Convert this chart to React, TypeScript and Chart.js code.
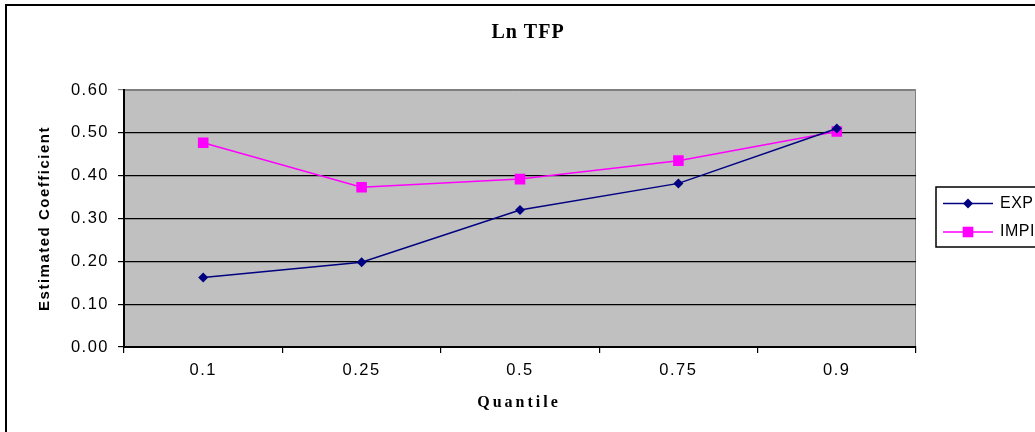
import React, { useEffect, useRef } from 'react';
import { Chart, registerables } from 'chart.js';

Chart.register(...registerables);

const categories = ['0.1', '0.25', '0.5', '0.75', '0.9'];
const expValues = [0.162, 0.198, 0.32, 0.382, 0.51];
const impiValues = [0.477, 0.373, 0.392, 0.435, 0.503];
const seriesLabels = ['EXP', 'IMPI'];
const seriesColors = ['#000080', '#FF00FF'];
const yMin = 0;
const yMax = 0.6;
const yStep = 0.1;
const chartTitle = 'Ln TFP';
const xTitle = 'Quantile';
const yTitle = 'Estimated Coefficient';

const decorPlugin = {
  id: 'decor',
  beforeDraw(chart: any) {
    const { ctx, chartArea: a } = chart;
    ctx.save();
    ctx.fillStyle = '#C0C0C0';
    ctx.fillRect(a.left, a.top, a.right - a.left, a.bottom - a.top);
    ctx.strokeStyle = '#808080';
    ctx.lineWidth = 1;
    ctx.beginPath();
    ctx.moveTo(a.left, a.top + 0.5);
    ctx.lineTo(a.right - 0.5, a.top + 0.5);
    ctx.lineTo(a.right - 0.5, a.bottom + 6);
    ctx.stroke();
    ctx.strokeStyle = '#000';
    ctx.lineWidth = 2;
    ctx.beginPath();
    ctx.moveTo(6, chart.height + 10);
    ctx.lineTo(6, 5);
    ctx.lineTo(chart.width + 10, 5);
    ctx.stroke();
    ctx.restore();
    ctx.letterSpacing = '1.5px';
  },
  afterDraw(chart: any) {
    const { ctx, chartArea: a } = chart;
    ctx.letterSpacing = '0px';
    ctx.save();
    ctx.fillStyle = '#000';
    ctx.textAlign = 'center';
    ctx.textBaseline = 'middle';
    // title
    ctx.letterSpacing = '1px';
    ctx.font = 'bold 20px "Liberation Serif"';
    ctx.fillText(chartTitle, 528, 33);
    // x title
    ctx.letterSpacing = '3px';
    ctx.font = 'bold 16px "Liberation Serif"';
    ctx.fillText(xTitle, 519, 403);
    // y title
    ctx.save();
    ctx.translate(45, (a.top + a.bottom) / 2);
    ctx.rotate(-Math.PI / 2);
    ctx.letterSpacing = '1.5px';
    ctx.font = 'bold 15px "Liberation Sans"';
    ctx.fillText(yTitle, 0, 0);
    ctx.restore();
    // legend
    ctx.letterSpacing = '0.5px';
    ctx.strokeStyle = '#000';
    ctx.lineWidth = 1.5;
    ctx.strokeRect(936, 187, 150, 60);
    ctx.textAlign = 'left';
    ctx.font = '16px "Liberation Sans"';
    chart.data.datasets.forEach((ds: any, i: number) => {
      const y = 203.5 + i * 28.5;
      ctx.strokeStyle = ds.borderColor;
      ctx.lineWidth = ds.borderWidth;
      ctx.beginPath();
      ctx.moveTo(943, y);
      ctx.lineTo(993, y);
      ctx.stroke();
      ctx.fillStyle = ds.backgroundColor;
      const x = 968;
      ctx.beginPath();
      if (ds.pointStyle === 'rectRot') {
        const r = ds.pointRadius;
        ctx.moveTo(x, y - r);
        ctx.lineTo(x + r, y);
        ctx.lineTo(x, y + r);
        ctx.lineTo(x - r, y);
        ctx.closePath();
      } else {
        const h = ds.pointRadius * Math.SQRT1_2;
        ctx.rect(x - h, y - h, 2 * h, 2 * h);
      }
      ctx.fill();
      ctx.fillStyle = '#000';
      ctx.fillText(ds.label, 1000, y);
    });
    ctx.restore();
  },
};

export default function App() {
  const ref = useRef<HTMLCanvasElement | null>(null);
  useEffect(() => {
    if (!ref.current) return;
    const chart = new Chart(ref.current, {
      type: 'line',
      data: {
        labels: categories,
        datasets: [
          {
            label: seriesLabels[0],
            data: expValues,
            borderColor: seriesColors[0],
            backgroundColor: seriesColors[0],
            borderWidth: 1.5,
            pointStyle: 'rectRot',
            pointRadius: 5,
            pointBorderWidth: 0,
            tension: 0,
          },
          {
            label: seriesLabels[1],
            data: impiValues,
            borderColor: seriesColors[1],
            backgroundColor: seriesColors[1],
            borderWidth: 1.5,
            pointStyle: 'rect',
            pointRadius: 7.5,
            pointBorderWidth: 0,
            tension: 0,
          },
        ],
      } as any,
      options: {
        animation: false,
        responsive: false,
        devicePixelRatio: 1,
        layout: { padding: { left: 0, top: 90, right: 119, bottom: 0 } },
        plugins: {
          legend: { display: false },
          title: { display: false },
          tooltip: { enabled: false },
        },
        scales: {
          x: {
            type: 'category',
            offset: true,
            ticks: {
              color: '#000',
              font: { family: '"Liberation Sans"', size: 16.5 },
              padding: 8,
              maxRotation: 0,
            },
            grid: {
              offset: true,
              drawOnChartArea: false,
              tickLength: 6,
              color: '#000',
              lineWidth: 1.2,
            },
            border: { color: '#000', width: 2 },
            afterFit(scale: any) {
              scale.height = 85;
            },
          },
          y: {
            min: yMin,
            max: yMax,
            ticks: {
              stepSize: yStep,
              color: '#000',
              font: { family: '"Liberation Sans"', size: 16.5 },
              padding: 9,
              callback: (v: any) => Number(v).toFixed(2),
            },
            grid: {
              color: (c: any) => (c.tick && Math.abs(c.tick.value - yMax) < 1e-6 ? '#808080' : '#000'),
              lineWidth: 1.2,
              tickLength: 6,
            },
            border: { color: '#000', width: 2 },
            afterFit(scale: any) {
              scale.width = 124;
            },
          },
        },
      } as any,
      plugins: [decorPlugin],
    });
    return () => chart.destroy();
  }, []);
  return (
    <div style={{ position: 'absolute', left: 0, top: 0, width: 1035, height: 432, overflow: 'hidden', background: '#fff' }}>
      <canvas ref={ref} width={1035} height={432} style={{ width: 1035, height: 432, display: 'block' }} />
    </div>
  );
}
